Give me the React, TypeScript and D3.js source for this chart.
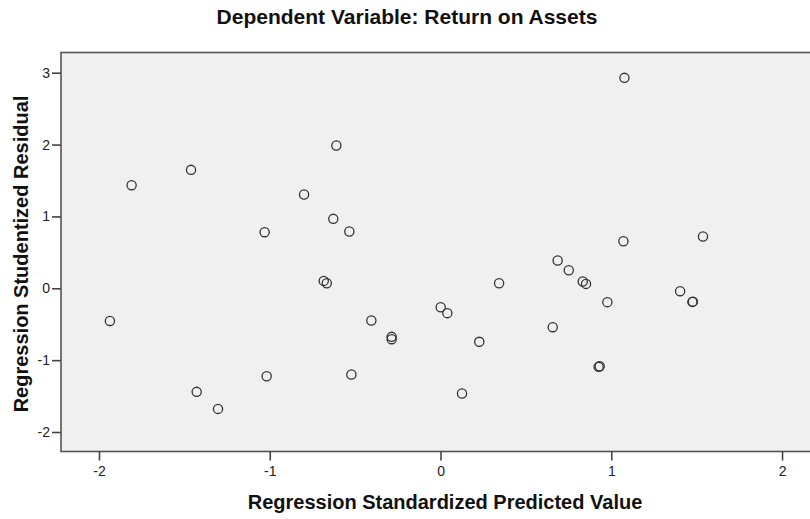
import { useEffect, useRef } from 'react';
import * as d3 from 'd3';

// Regression Standardized Predicted Value (x)
const predicted = [
  -1.936, -1.809, -1.461, -1.428, -1.303, -1.03, -1.018, -0.799, -0.684, -0.666,
  -0.628, -0.61, -0.534, -0.522, -0.405, -0.286, -0.286, 0.001, 0.04, 0.126,
  0.227, 0.343, 0.657, 0.686, 0.751, 0.833, 0.852, 0.926, 0.932, 0.977,
  1.071, 1.077, 1.403, 1.475, 1.478, 1.537
];

// Regression Studentized Residual (y)
const residual = [
  -0.454, 1.435, 1.648, -1.441, -1.678, 0.781, -1.223, 1.305, 0.103, 0.071,
  0.966, 1.987, 0.79, -1.2, -0.449, -0.676, -0.708, -0.263, -0.346, -1.464,
  -0.745, 0.071, -0.541, 0.386, 0.252, 0.094, 0.061, -1.093, -1.085, -0.193,
  0.655, 2.928, -0.04, -0.189, -0.186, 0.721
];

const xTicks = [-2, -1, 0, 1, 2];
const yTicks = [-2, -1, 0, 1, 2, 3];

const title = 'Dependent Variable: Return on Assets';
const xLabel = 'Regression Standardized Predicted Value';
const yLabel = 'Regression Studentized Residual';

const App = () => {
  const svgRef = useRef<SVGSVGElement>(null);

  useEffect(() => {
    if (!svgRef.current) return;

    const width = 810;
    const height = 519;
    const plot = { left: 61, top: 52.5, right: 815, bottom: 451.5 };
    const font = '"Liberation Sans", Arial, sans-serif';

    const x = d3.scaleLinear().domain([-2.2225, 2.193]).range([plot.left, plot.right]);
    const y = d3.scaleLinear().domain([-2.271, 3.281]).range([plot.bottom, plot.top]);

    const svg = d3.select(svgRef.current);
    svg.selectAll('*').remove();
    svg.attr('width', width).attr('height', height);

    svg.append('rect')
      .attr('width', width)
      .attr('height', height)
      .attr('fill', '#ffffff');

    // zone du graphique
    svg.append('rect')
      .attr('x', plot.left)
      .attr('y', plot.top)
      .attr('width', plot.right - plot.left)
      .attr('height', plot.bottom - plot.top)
      .attr('fill', '#f0f0f0')
      .attr('stroke', '#555555')
      .attr('stroke-width', 1.6);

    // axe X
    const xAxis = svg.append('g')
      .attr('transform', `translate(0,${plot.bottom})`)
      .call(d3.axisBottom(x).tickValues(xTicks).tickSize(9).tickSizeOuter(0).tickPadding(6).tickFormat(d => String(d)));
    xAxis.select('.domain').remove();

    // axe Y
    const yAxis = svg.append('g')
      .attr('transform', `translate(${plot.left},0)`)
      .call(d3.axisLeft(y).tickValues(yTicks).tickSize(9).tickSizeOuter(0).tickPadding(2).tickFormat(d => String(d)));
    yAxis.select('.domain').remove();

    svg.selectAll('.tick line')
      .attr('stroke', '#444444')
      .attr('stroke-width', 1.6);
    svg.selectAll('.tick text')
      .attr('fill', '#222222')
      .style('font-family', font)
      .style('font-size', '14px');

    // points
    svg.append('g')
      .selectAll('circle')
      .data(predicted.map((p, i) => [p, residual[i]]))
      .enter()
      .append('circle')
      .attr('cx', d => x(d[0]))
      .attr('cy', d => y(d[1]))
      .attr('r', 4.6)
      .attr('fill', 'none')
      .attr('stroke', '#333333')
      .attr('stroke-width', 1.3);

    // titres
    svg.append('text')
      .attr('x', 407)
      .attr('y', 24)
      .attr('text-anchor', 'middle')
      .style('font-family', font)
      .style('font-size', '21px')
      .style('font-weight', 'bold')
      .style('fill', '#111111')
      .text(title);

    svg.append('text')
      .attr('x', 445)
      .attr('y', 509)
      .attr('text-anchor', 'middle')
      .style('font-family', font)
      .style('font-size', '20px')
      .style('font-weight', 'bold')
      .style('fill', '#111111')
      .text(xLabel);

    svg.append('text')
      .attr('transform', `translate(28,254) rotate(-90)`)
      .attr('text-anchor', 'middle')
      .style('font-family', font)
      .style('font-size', '20px')
      .style('font-weight', 'bold')
      .style('fill', '#111111')
      .text(yLabel);
  }, []);

  return (
    <div>
      <style>{'body { margin: 0; }'}</style>
      <svg ref={svgRef} style={{ display: 'block' }}></svg>
    </div>
  );
};

export default App;
